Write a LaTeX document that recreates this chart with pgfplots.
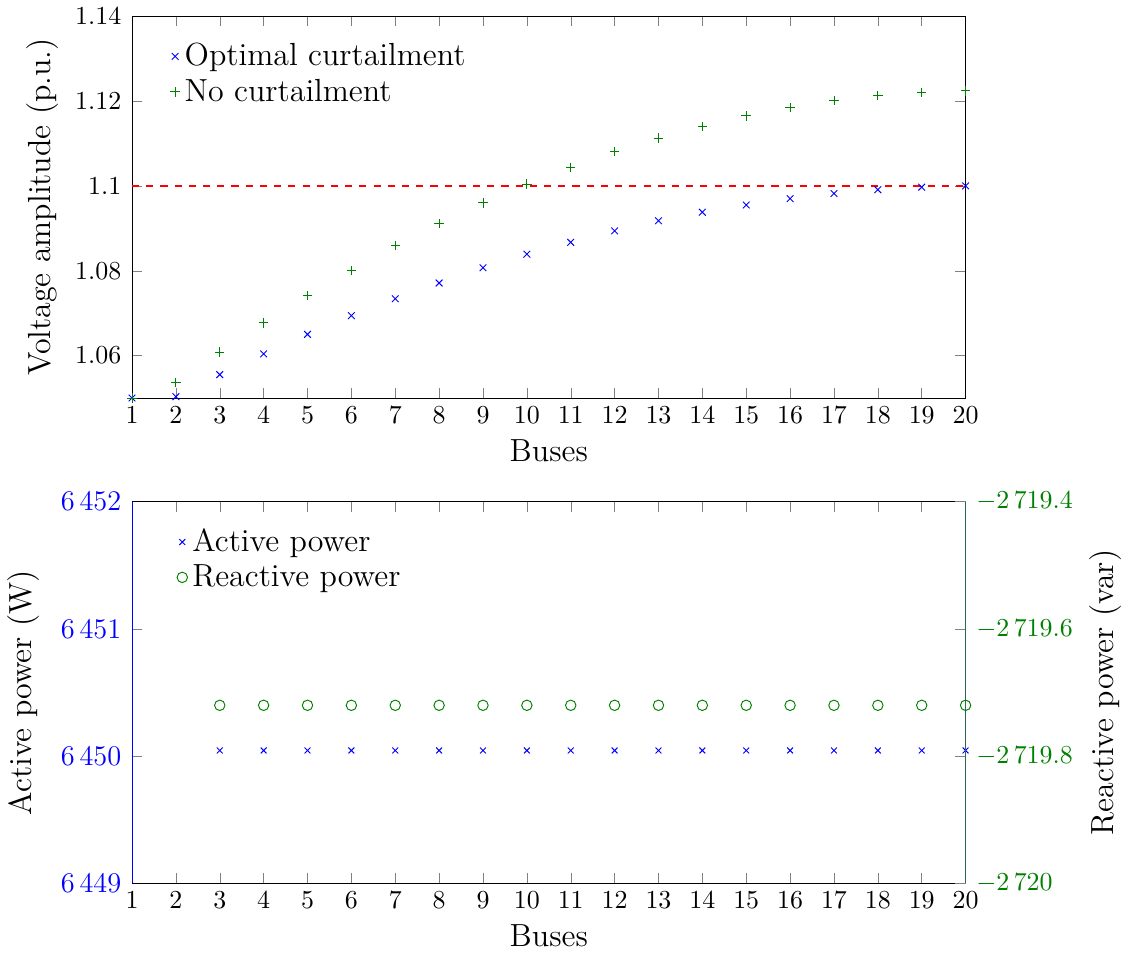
\documentclass[border=0pt]{standalone}
\usepackage{pgfplots}
\pgfplotsset{compat=1.18}
\definecolor{dgreen}{rgb}{0,0.5,0}
\definecolor{axteal}{rgb}{0.16,0.40,0.36}
\newcommand{\labfont}{\fontsize{13.5}{16}\selectfont}
\newcommand{\tickfont}{\fontsize{11.5}{13}\selectfont}
\newcommand{\rtickfont}{\fontsize{11}{13}\selectfont}
\newcommand{\stickfont}{\fontsize{10.7}{13}\selectfont}
\begin{document}
\begin{tikzpicture}
\pgfplotsset{
  every axis/.append style={
    /pgf/number format/1000 sep={\,},
    scaled y ticks=false,
    label style={font=\labfont},
    tick label style={font=\stickfont},
    legend style={at={(0.037,0.955)}, anchor=north west, draw=none, fill=none, font=\labfont, legend cell align=left},
    yticklabel style={xshift=-1pt},
  },
}
% ---------- top axis ----------
\begin{axis}[
  at={(0,205pt)},
  scale only axis,
  width=352pt, height=161.2pt,
  xmin=1, xmax=20, ymin=1.05, ymax=1.14,
  xtick={1,2,...,20},
  ytick={1.06,1.08,1.1,1.12,1.14},
  xlabel={Buses},
  ylabel={Voltage amplitude (p.u.)},
  ylabel shift=0pt,
]
\addplot[blue, only marks, mark=x, mark size=2pt] coordinates {
(1,1.0500) (2,1.0503) (3,1.0555) (4,1.0604) (5,1.0650) (6,1.0694) (7,1.0734)
(8,1.0771) (9,1.0807) (10,1.0839) (11,1.0867) (12,1.0894) (13,1.0918) (14,1.0938)
(15,1.0955) (16,1.0970) (17,1.0982) (18,1.0991) (19,1.0997) (20,1.1000)};
\addlegendentry{Optimal curtailment}
\addplot[dgreen, only marks, mark=+, mark size=2pt] coordinates {
(1,1.0500) (2,1.0536) (3,1.0608) (4,1.0677) (5,1.0742) (6,1.0801) (7,1.0860)
(8,1.0911) (9,1.0960) (10,1.1004) (11,1.1044) (12,1.1081) (13,1.1113) (14,1.1140)
(15,1.1165) (16,1.1185) (17,1.1201) (18,1.1213) (19,1.1220) (20,1.1224)};
\addlegendentry{No curtailment}
\addplot[red, dashed, line width=0.7pt, forget plot] coordinates {(1,1.1) (20,1.1)};
\end{axis}
% ---------- bottom axis (left) ----------
\begin{axis}[
  at={(0,0)},
  scale only axis,
  width=352pt, height=161.2pt,
  xmin=1, xmax=20, ymin=6449, ymax=6452,
  xtick={1,2,...,20},
  ytick={6449,6450,6451,6452},
  axis y line*=left,
  y axis line style={blue},
  yticklabel style={blue, font=\tickfont},
  xlabel={Buses},
  ylabel={Active power (W)},
  ylabel shift=2pt,
]
\addplot[blue, only marks, mark=x, mark size=1.75pt] coordinates {
(3,6450.045) (4,6450.045) (5,6450.045) (6,6450.045) (7,6450.045) (8,6450.045)
(9,6450.045) (10,6450.045) (11,6450.045) (12,6450.045) (13,6450.045) (14,6450.045)
(15,6450.045) (16,6450.045) (17,6450.045) (18,6450.045) (19,6450.045) (20,6450.045)};
\end{axis}
% ---------- bottom axis (right) ----------
\begin{axis}[
  at={(0,0)},
  scale only axis,
  width=352pt, height=161.2pt,
  xmin=1, xmax=20, ymin=-2720, ymax=-2719.4,
  axis x line=none,
  axis y line*=right,
  y axis line style={axteal},
  ytick={-2720,-2719.8,-2719.6,-2719.4},
  yticklabel style={dgreen, font=\rtickfont, xshift=2pt},
  ylabel={Reactive power (var)},
  legend style={at={(0.045,0.955)}},
]
\addlegendimage{blue, only marks, mark=x, mark size=1.75pt}
\addlegendentry{Active power}
\addplot[dgreen, only marks, mark=o, mark size=2.2pt] coordinates {
(3,-2719.72) (4,-2719.72) (5,-2719.72) (6,-2719.72) (7,-2719.72) (8,-2719.72)
(9,-2719.72) (10,-2719.72) (11,-2719.72) (12,-2719.72) (13,-2719.72) (14,-2719.72)
(15,-2719.72) (16,-2719.72) (17,-2719.72) (18,-2719.72) (19,-2719.72) (20,-2719.72)};
\addlegendentry{Reactive power}
\end{axis}
\end{tikzpicture}
\end{document}
